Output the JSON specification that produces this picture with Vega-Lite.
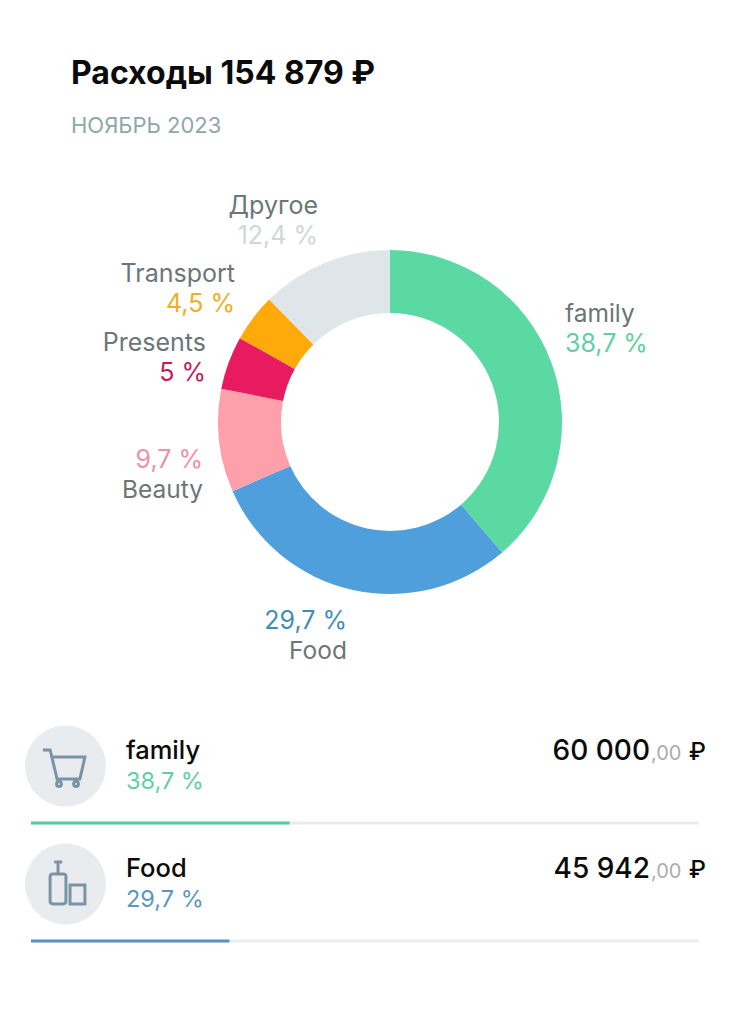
{"$schema":"https://vega.github.io/schema/vega-lite/v6.json","width":740,"height":1012,"autosize":{"type":"fit","contains":"padding"},"padding":0,"background":"white","view":{"stroke":null},"config":{"text":{"font":"Inter","baseline":"alphabetic"}},
"data":{"values":[
{"category":"family","share":38.7,"pct":"38,7 %","amount":"60 000","amountTotal":60000},
{"category":"Food","share":29.7,"pct":"29,7 %","amount":"45 942","amountTotal":45942},
{"category":"Beauty","share":9.7,"pct":"9,7 %"},
{"category":"Presents","share":5,"pct":"5 %"},
{"category":"Transport","share":4.5,"pct":"4,5 %"},
{"category":"Другое","share":12.4,"pct":"12,4 %"}
]},
"layer":[
{"mark":{"type":"arc","radius":172,"radius2":109,"stroke":null},
"encoding":{"x":{"value":390},"y":{"value":422},
"theta":{"field":"share","type":"quantitative","stack":true,"scale":{"domain":[0,100],"range":[0,6.28319]}},
"order":{"field":"idx","type":"quantitative"},
"color":{"field":"category","type":"nominal","legend":null,"sort":null,"scale":{"domain":["family","Food","Beauty","Presents","Transport","Другое"],"range":["#5ad9a3","#4f9fdc","#fe9fac","#e81a60","#ffa90a","#dfe6e9"]}}},
"transform":[{"window":[{"op":"row_number","as":"idx"}]}]},

{"data":{"values":[{"t":"Расходы 154 879 ₽"}]},"mark":{"type":"text","fontSize":32,"fontWeight":700,"align":"left","color":"#0b0b0b"},"encoding":{"x":{"value":71},"y":{"value":84},"text":{"field":"t"}}},
{"data":{"values":[{"t":"НОЯБРЬ 2023"}]},"mark":{"type":"text","fontSize":22,"align":"left","color":"#8ea8a8"},"encoding":{"x":{"value":71},"y":{"value":133},"text":{"field":"t"}}},

{"transform":[{"filter":"datum.category=='family'"}],"mark":{"type":"text","fontSize":24.5,"align":"left","color":"#6c7679"},"encoding":{"x":{"value":565},"y":{"value":322},"text":{"field":"category"}}},
{"transform":[{"filter":"datum.category=='family'"}],"mark":{"type":"text","fontSize":25,"align":"left","color":"#5fd0a3"},"encoding":{"x":{"value":565},"y":{"value":352},"text":{"field":"pct"}}},
{"transform":[{"filter":"datum.category=='Другое'"}],"mark":{"type":"text","fontSize":25,"align":"right","color":"#6c7679"},"encoding":{"x":{"value":318},"y":{"value":214},"text":{"field":"category"}}},
{"transform":[{"filter":"datum.category=='Другое'"}],"mark":{"type":"text","fontSize":25,"align":"right","color":"#d0d7d9"},"encoding":{"x":{"value":318},"y":{"value":244},"text":{"field":"pct"}}},
{"transform":[{"filter":"datum.category=='Transport'"}],"mark":{"type":"text","fontSize":25,"align":"right","color":"#6c7679"},"encoding":{"x":{"value":235},"y":{"value":282},"text":{"field":"category"}}},
{"transform":[{"filter":"datum.category=='Transport'"}],"mark":{"type":"text","fontSize":25,"align":"right","color":"#f1ae1f"},"encoding":{"x":{"value":235},"y":{"value":312},"text":{"field":"pct"}}},
{"transform":[{"filter":"datum.category=='Presents'"}],"mark":{"type":"text","fontSize":25,"align":"right","color":"#6c7679"},"encoding":{"x":{"value":206},"y":{"value":351},"text":{"field":"category"}}},
{"transform":[{"filter":"datum.category=='Presents'"}],"mark":{"type":"text","fontSize":25,"align":"right","color":"#c4195e"},"encoding":{"x":{"value":206},"y":{"value":381},"text":{"field":"pct"}}},
{"transform":[{"filter":"datum.category=='Beauty'"}],"mark":{"type":"text","fontSize":25,"align":"right","color":"#ef90a6"},"encoding":{"x":{"value":203},"y":{"value":468},"text":{"field":"pct"}}},
{"transform":[{"filter":"datum.category=='Beauty'"}],"mark":{"type":"text","fontSize":24.5,"align":"right","color":"#6c7679"},"encoding":{"x":{"value":203},"y":{"value":498},"text":{"field":"category"}}},
{"transform":[{"filter":"datum.category=='Food'"}],"mark":{"type":"text","fontSize":25,"align":"right","color":"#3f8fb5"},"encoding":{"x":{"value":347},"y":{"value":629},"text":{"field":"pct"}}},
{"transform":[{"filter":"datum.category=='Food'"}],"mark":{"type":"text","fontSize":24.5,"align":"right","color":"#6c7679"},"encoding":{"x":{"value":347},"y":{"value":659},"text":{"field":"category"}}},

{"transform":[{"filter":"datum.category=='family'"}],"mark":{"type":"point","shape":"circle","filled":true,"color":"#e9ecee","opacity":1},"encoding":{"x":{"value":65.5},"y":{"value":766},"size":{"value":6561}}},
{"transform":[{"filter":"datum.category=='Food'"}],"mark":{"type":"point","shape":"circle","filled":true,"color":"#e9ecee","opacity":1},"encoding":{"x":{"value":65.5},"y":{"value":884},"size":{"value":6561}}},
{"transform":[{"filter":"datum.category=='family'"}],"mark":{"type":"point","filled":false,"opacity":1,"color":"#7b94a5","strokeWidth":3,"shape":"M -0.92,-0.67 L -0.62,-0.67 L -0.33,0.54 L 0.62,0.54 L 0.83,-0.37 L -0.54,-0.37 M -0.35,0.75 a 0.1,0.1 0 1,0 0.2,0 a 0.1,0.1 0 1,0 -0.2,0 M 0.36,0.75 a 0.1,0.1 0 1,0 0.2,0 a 0.1,0.1 0 1,0 -0.2,0"},"encoding":{"x":{"value":65},"y":{"value":766},"size":{"value":2304}}},
{"transform":[{"filter":"datum.category=='Food'"}],"mark":{"type":"point","filled":false,"opacity":1,"color":"#7b94a5","strokeWidth":3,"shape":"M -0.45,-0.92 L -0.12,-0.92 M -0.29,-0.92 L -0.29,-0.42 M -0.62,-0.3 Q -0.62,-0.42 -0.5,-0.42 L -0.08,-0.42 Q 0.04,-0.42 0.04,-0.3 L 0.04,0.71 Q 0.04,0.83 -0.08,0.83 L -0.5,0.83 Q -0.62,0.83 -0.62,0.71 Z M 0.21,0.04 L 0.83,0.04 L 0.83,0.83 L 0.21,0.83 Z"},"encoding":{"x":{"value":65},"y":{"value":884},"size":{"value":2304}}},

{"transform":[{"filter":"datum.category=='family'"}],"mark":{"type":"text","fontSize":25.5,"fontWeight":500,"align":"left","color":"#0b0b0b"},"encoding":{"x":{"value":126},"y":{"value":759},"text":{"field":"category"}}},
{"transform":[{"filter":"datum.category=='family'"}],"mark":{"type":"text","fontSize":23.5,"align":"left","color":"#5fd0a3"},"encoding":{"x":{"value":126},"y":{"value":789},"text":{"field":"pct"}}},
{"transform":[{"filter":"datum.category=='Food'"}],"mark":{"type":"text","fontSize":25.5,"fontWeight":500,"align":"left","color":"#0b0b0b"},"encoding":{"x":{"value":126},"y":{"value":877},"text":{"field":"category"}}},
{"transform":[{"filter":"datum.category=='Food'"}],"mark":{"type":"text","fontSize":23.5,"align":"left","color":"#5a97bd"},"encoding":{"x":{"value":126},"y":{"value":907},"text":{"field":"pct"}}},

{"transform":[{"filter":"datum.category=='family'"}],"mark":{"type":"text","fontSize":28,"fontWeight":500,"align":"right","color":"#0b0b0b"},"encoding":{"x":{"value":650},"y":{"value":760},"text":{"field":"amount"}}},
{"transform":[{"filter":"datum.category=='Food'"}],"mark":{"type":"text","fontSize":28,"fontWeight":500,"align":"right","color":"#0b0b0b"},"encoding":{"x":{"value":650},"y":{"value":878},"text":{"field":"amount"}}},
{"data":{"values":[{"t":",00"}]},"mark":{"type":"text","fontSize":20,"align":"left","color":"#a9adb0"},"encoding":{"x":{"value":651},"y":{"value":760},"text":{"field":"t"}}},
{"data":{"values":[{"t":",00"}]},"mark":{"type":"text","fontSize":20,"align":"left","color":"#a9adb0"},"encoding":{"x":{"value":651},"y":{"value":878},"text":{"field":"t"}}},
{"data":{"values":[{"t":"₽"}]},"mark":{"type":"text","fontSize":24,"fontWeight":500,"align":"right","color":"#0b0b0b"},"encoding":{"x":{"value":706},"y":{"value":760},"text":{"field":"t"}}},
{"data":{"values":[{"t":"₽"}]},"mark":{"type":"text","fontSize":24,"fontWeight":500,"align":"right","color":"#0b0b0b"},"encoding":{"x":{"value":706},"y":{"value":878},"text":{"field":"t"}}},

{"transform":[{"filter":"datum.category=='family'"}],"mark":{"type":"rule","color":"#ebeced","strokeWidth":3},"encoding":{"x":{"datum":0,"type":"quantitative","scale":{"domain":[0,100],"range":[31,699]},"axis":null},"x2":{"datum":100},"y":{"value":823}}},
{"transform":[{"filter":"datum.category=='Food'"}],"mark":{"type":"rule","color":"#ebeced","strokeWidth":3},"encoding":{"x":{"datum":0,"type":"quantitative","scale":{"domain":[0,100],"range":[31,699]},"axis":null},"x2":{"datum":100},"y":{"value":941}}},
{"transform":[{"filter":"datum.category=='family'"}],"mark":{"type":"rule","color":"#5bc89b","strokeWidth":3},"encoding":{"x":{"field":"share","type":"quantitative","scale":{"domain":[0,100],"range":[31,699]},"axis":null},"x2":{"datum":0},"y":{"value":823}}},
{"transform":[{"filter":"datum.category=='Food'"}],"mark":{"type":"rule","color":"#5a93c0","strokeWidth":3},"encoding":{"x":{"field":"share","type":"quantitative","scale":{"domain":[0,100],"range":[31,699]},"axis":null},"x2":{"datum":0},"y":{"value":941}}}
]}
